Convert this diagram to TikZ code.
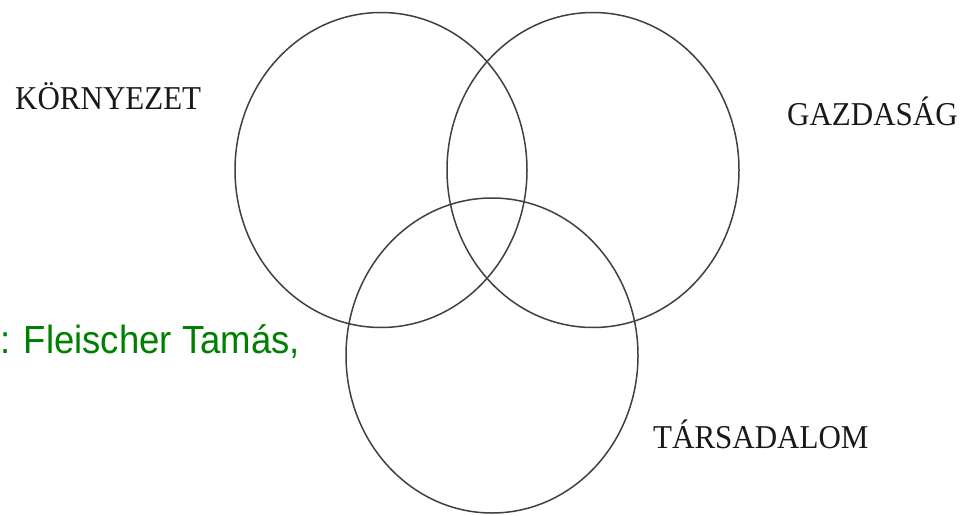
\documentclass[tikz,border=0pt]{standalone}
\usepackage{fontspec}
\setmainfont{Liberation Serif}
\newfontfamily\arialfont{Liberation Sans}
\usepackage{xcolor}
\usepackage{tikz}
\usetikzlibrary{shapes.geometric}
\definecolor{forrasgreen}{RGB}{0,128,0}

\begin{document}
\begin{tikzpicture}[
    x=1pt, y=-1pt,
    ring/.style={draw=black!75, line width=1.5pt, ellipse, inner sep=0pt, minimum width=292pt, minimum height=315pt},
    label/.style={font=\fontsize{31}{31}\selectfont, text=black!90, anchor=base west, inner sep=0pt, yscale=1.075},
    source/.style={font=\arialfont\fontsize{36.5}{37}\selectfont, text=forrasgreen, anchor=base west, inner sep=0pt, yscale=1.075}
]
\useasboundingbox (0,0) rectangle (963,516);
\clip (0,0) rectangle (963,516);

\node[ring] (kornyezet) at (381,170) {};
\node[ring] (gazdasag) at (593,170) {};
\node[ring] (tarsadalom) at (492,355.5) {};

\node[label] (kornyezetlabel) at (15,110) {KÖRNYEZET};
\node[label] (gazdasaglabel) at (787,125) {GAZDASÁG};
\node[label] (tarsadalomlabel) at (653,448) {TÁRSADALOM};

\node[source] (forras) at (0,353) {: Fleischer Tamás,};
\end{tikzpicture}
\end{document}
